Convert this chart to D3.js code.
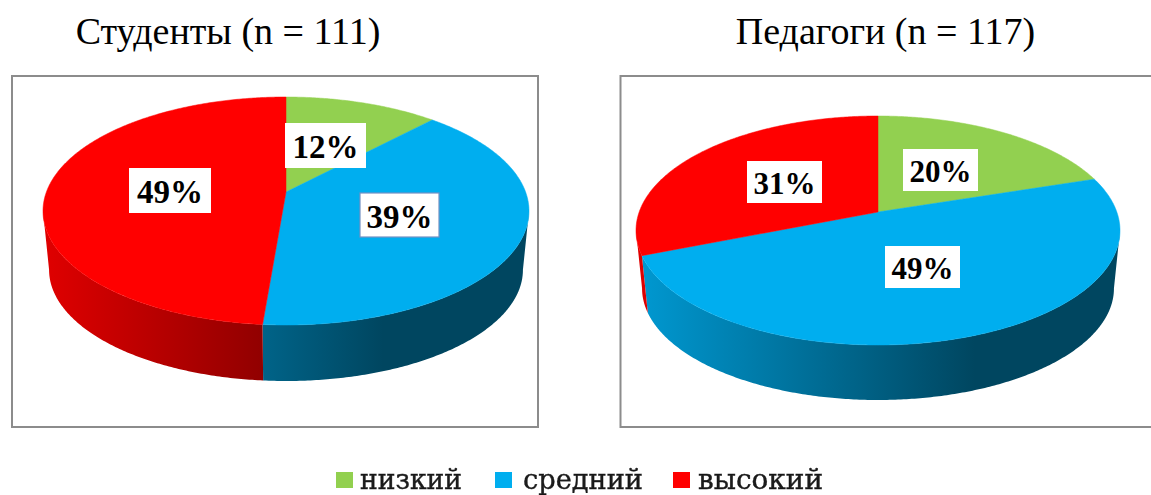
<!DOCTYPE html>
<html>
<head>
<meta charset="utf-8">
<style>
  html, body { margin: 0; padding: 0; background: #fff; }
  svg { display: block; }
</style>
<script src="https://cdnjs.cloudflare.com/ajax/libs/d3/7.8.5/d3.min.js"></script>
</head>
<body>
<div id="chart"></div>
<script>
// data
const categories = ["низкий", "средний", "высокий"];
const colors = ["#92D050", "#00AEEF", "#FF0000"];
const studentValues = [12, 39.3, 48.7];
const teacherValues = [20, 49, 31];
const studentTitle = "Студенты (n = 111)";
const teacherTitle = "Педагоги (n = 117)";

const width = 1151;
const height = 495;

// per chart geometry (the pie is drawn in perspective so the apex is above the ellipse middle)
const studentLayout = {
  title: studentTitle, values: studentValues,
  titleX: 228, titleY: 44, titleSize: 38,
  frame: [12, 76, 526, 351],
  cx: 286, apex: 192, top: 97, bottom: 325, rx: 243, depth: 56,
  labelSize: 33,
  boxes: [[285, 123, 81, 45], [360, 193, 79, 44], [129, 168, 82, 45]],
  boxBorder: [null, "#7391c4", null]
};
const teacherLayout = {
  title: teacherTitle, values: teacherValues,
  titleX: 885.5, titleY: 44, titleSize: 38,
  frame: [620.5, 76, 540, 351],
  cx: 878, apex: 212, top: 116, bottom: 345, rx: 242, depth: 55,
  labelSize: 31,
  boxes: [[903, 149, 75, 42], [885, 246, 75, 42], [747, 161, 75, 42]],
  boxBorder: [null, null, null]
};

const svg = d3.select("#chart")
  .append("svg")
  .attr("width", width)
  .attr("height", height);

const defs = svg.append("defs");
defs.append("filter")
  .attr("id", "soft")
  .append("feGaussianBlur")
  .attr("stdDeviation", 0.5);

const pie = d3.pie().value(d => d).sort(null);
const line = d3.line();
const rimScale = 0.975;

function drawPie(cfg, idx) {
  const g = svg.append("g");

  g.append("text")
    .attr("x", cfg.titleX)
    .attr("y", cfg.titleY)
    .attr("text-anchor", "middle")
    .attr("font-family", "Liberation Serif")
    .attr("font-size", cfg.titleSize)
    .attr("fill", "#000")
    .text(cfg.title);

  g.append("rect")
    .attr("x", cfg.frame[0])
    .attr("y", cfg.frame[1])
    .attr("width", cfg.frame[2])
    .attr("height", cfg.frame[3])
    .attr("fill", "#fff")
    .attr("stroke", "#8c8c8c")
    .attr("stroke-width", 2);

  // homography of the unit circle
  const up = cfg.apex - cfg.top;
  const down = cfg.bottom - cfg.apex;
  const t = (down - up) / (down + up);
  const B = up * (1 + t);
  const A = cfg.rx * Math.sqrt(1 - t * t);
  const rimApex = cfg.bottom + cfg.depth - rimScale * down;

  const topPoint = a => {
    const u = Math.sin(a), v = -Math.cos(a), w = 1 - t * v;
    return [cfg.cx + A * u / w, cfg.apex + B * v / w];
  };
  const rimPoint = a => {
    const u = Math.sin(a), v = -Math.cos(a), w = 1 - t * v;
    return [cfg.cx + rimScale * A * u / w, rimApex + rimScale * B * v / w];
  };
  const sample = (a0, a1) => {
    const n = Math.max(2, Math.ceil((a1 - a0) / 0.01));
    return d3.range(n + 1).map(i => a0 + (a1 - a0) * i / n);
  };

  // the side wall is visible between the two horizontal extremes of the ellipse
  const sideStart = Math.acos(-t);
  const sideEnd = 2 * Math.PI - sideStart;
  const slices = pie(cfg.values);

  slices.forEach((d, i) => {
    const a0 = Math.max(d.startAngle, sideStart);
    const a1 = Math.min(d.endAngle, sideEnd);
    if (a1 <= a0) return;

    const gradId = "side" + idx + "-" + i;
    const base = d3.rgb(colors[i]);
    const shade = f => d3.rgb(base.r * f, base.g * f, base.b * f).formatHex();
    const grad = defs.append("linearGradient")
      .attr("id", gradId)
      .attr("gradientUnits", "userSpaceOnUse")
      .attr("x1", cfg.cx - cfg.rx)
      .attr("x2", cfg.cx + cfg.rx)
      .attr("y1", 0)
      .attr("y2", 0);
    [[0, 0.88], [0.7, 0.4], [1, 0.4]].forEach(s => {
      grad.append("stop").attr("offset", s[0]).attr("stop-color", shade(s[1]));
    });

    const angles = sample(a0, a1);
    const wall = angles.map(topPoint).concat(angles.slice().reverse().map(rimPoint));
    g.append("path")
      .attr("d", line(wall) + "Z")
      .attr("fill", "url(#" + gradId + ")");
  });

  slices.forEach((d, i) => {
    const rim = sample(d.startAngle, d.endAngle).map(topPoint);
    g.append("path")
      .attr("d", line([[cfg.cx, cfg.apex]].concat(rim)) + "Z")
      .attr("fill", colors[i])
      .attr("stroke", colors[i])
      .attr("stroke-width", 0.5);
  });

  // white value labels
  slices.forEach((d, i) => {
    const b = cfg.boxes[i];
    g.append("rect")
      .attr("x", b[0])
      .attr("y", b[1])
      .attr("width", b[2])
      .attr("height", b[3])
      .attr("fill", "#fff")
      .attr("stroke", cfg.boxBorder[i] || "none")
      .attr("stroke-width", 1.2);
    g.append("text")
      .attr("x", b[0] + b[2] / 2)
      .attr("y", b[1] + b[3] / 2 + cfg.labelSize * 0.38)
      .attr("text-anchor", "middle")
      .attr("font-family", "Liberation Serif")
      .attr("font-weight", "bold")
      .attr("font-size", cfg.labelSize)
      .attr("fill", "#000")
      .text(Math.round(d.value) + "%");
  });
}

drawPie(studentLayout, 0);
drawPie(teacherLayout, 1);

// legend
const legendSwatchX = [336, 495, 673];
const legendTextX = [360, 523, 698];
const legendTextLength = [102, 120, 125];
const legend = svg.append("g").attr("filter", "url(#soft)");

categories.forEach((c, i) => {
  legend.append("rect")
    .attr("x", legendSwatchX[i])
    .attr("y", 472)
    .attr("width", 17)
    .attr("height", 16)
    .attr("fill", colors[i]);
  legend.append("text")
    .attr("x", legendTextX[i])
    .attr("y", 488.5)
    .attr("font-family", "DejaVu Serif")
    .attr("font-size", 27)
    .attr("textLength", legendTextLength[i])
    .attr("lengthAdjust", "spacingAndGlyphs")
    .attr("fill", "#1a1a1a")
    .attr("stroke", "#1a1a1a")
    .attr("stroke-width", 0.4)
    .text(c);
});
</script>
</body>
</html>
